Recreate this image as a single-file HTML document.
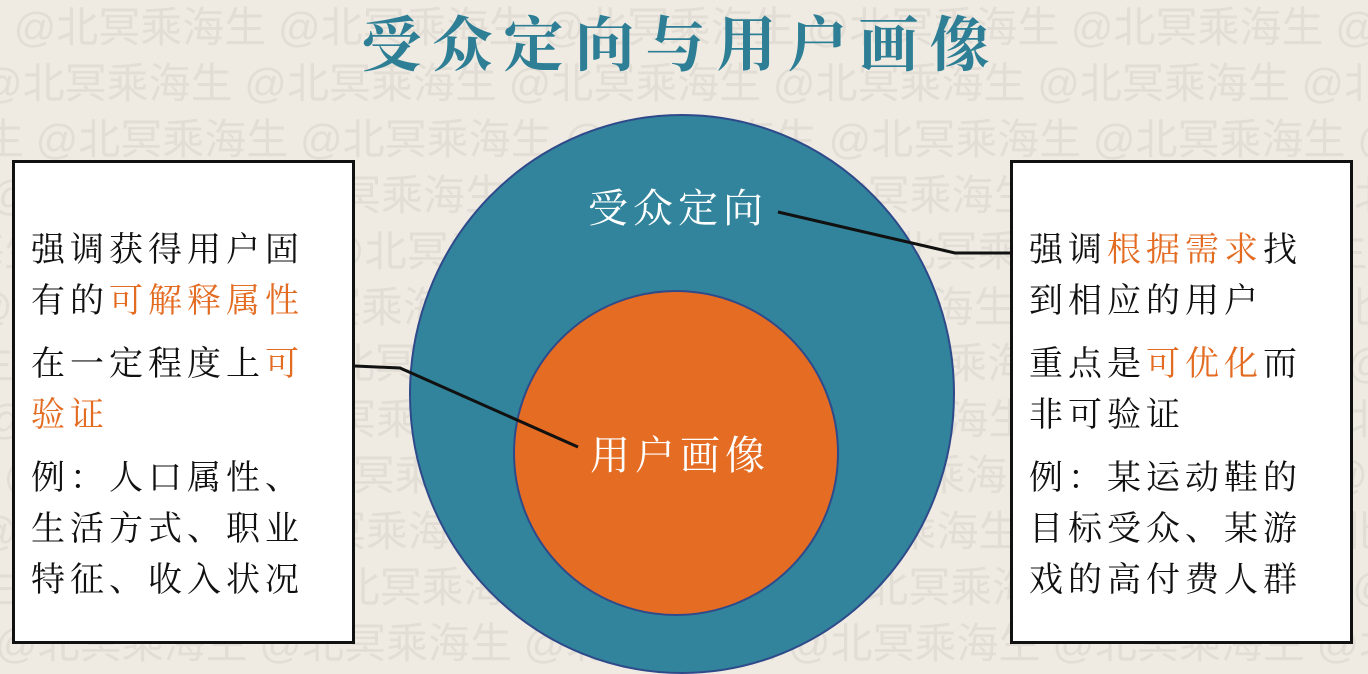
<!DOCTYPE html>
<html><head><meta charset="utf-8"><style>
html,body{margin:0;padding:0}
body{width:1368px;height:674px;overflow:hidden;background:#efebe2;position:relative;font-family:"Liberation Serif","Noto Serif CJK SC",serif}
.wm{position:absolute;left:0;top:0;width:1368px;height:674px;overflow:hidden;color:#e2ded6;font-family:"Liberation Sans","Noto Sans CJK SC",sans-serif;font-size:42px;white-space:nowrap;line-height:56px}
.box{position:absolute;top:160px;width:343px;height:484px;background:#fff;border:3px solid #111;box-sizing:border-box;padding:62px 0 0 16px;font-size:34px;color:#111;letter-spacing:5px}
.box p{margin:0;line-height:51px}
.box p.gap{margin-top:12px}
.o{color:#e36c22}
</style></head><body>
<div class="wm">
<div style="margin-left:-40px">生 @北冥乘海生 @北冥乘海生 @北冥乘海生 @北冥乘海生 @北冥乘海生 @北冥乘海生</div>
<div style="margin-left:-20px">@北冥乘海生 @北冥乘海生 @北冥乘海生 @北冥乘海生 @北冥乘海生 @北冥乘海生</div>
<div style="margin-left:-60px">海生 @北冥乘海生 @北冥乘海生 @北冥乘海生 @北冥乘海生 @北冥乘海生 @</div>
<div style="margin-left:-10px">@北冥乘海生 @北冥乘海生 @北冥乘海生 @北冥乘海生 @北冥乘海生 @北冥乘海生</div>
<div style="margin-left:-80px">乘海生 @北冥乘海生 @北冥乘海生 @北冥乘海生 @北冥乘海生 @北冥乘海生</div>
<div style="margin-left:-30px">@北冥乘海生 @北冥乘海生 @北冥乘海生 @北冥乘海生 @北冥乘海生 @北冥乘海生</div>
<div style="margin-left:-70px">海生 @北冥乘海生 @北冥乘海生 @北冥乘海生 @北冥乘海生 @北冥乘海生 @</div>
<div style="margin-left:-15px">@北冥乘海生 @北冥乘海生 @北冥乘海生 @北冥乘海生 @北冥乘海生 @北冥乘海生</div>
<div style="margin-left:-50px">生 @北冥乘海生 @北冥乘海生 @北冥乘海生 @北冥乘海生 @北冥乘海生 @北冥乘海生</div>
<div style="margin-left:-25px">@北冥乘海生 @北冥乘海生 @北冥乘海生 @北冥乘海生 @北冥乘海生 @北冥乘海生</div>
<div style="margin-left:-65px">海生 @北冥乘海生 @北冥乘海生 @北冥乘海生 @北冥乘海生 @北冥乘海生 @</div>
<div style="margin-left:-5px">@北冥乘海生 @北冥乘海生 @北冥乘海生 @北冥乘海生 @北冥乘海生 @北冥乘海生</div>
</div>
<div style="position:absolute;left:0;width:1362px;top:8px;text-align:center;font-size:60px;font-weight:bold;color:#2e7f96;letter-spacing:11px;line-height:76px">受众定向与用户画像</div>
<svg width="1368" height="674" style="position:absolute;left:0;top:0">
<ellipse cx="682" cy="394" rx="272" ry="279" fill="#31849b" stroke="#2f4a8a" stroke-width="2"/>
<circle cx="676" cy="453" r="162" fill="#e46c23" stroke="#2f4a8a" stroke-width="2"/>
<text x="678" y="222" text-anchor="middle" fill="#fff" font-size="40" letter-spacing="5" font-family="Liberation Serif, Noto Serif CJK SC, serif">受众定向</text>
<text x="680" y="469" text-anchor="middle" fill="#fff" font-size="40" letter-spacing="5" font-family="Liberation Serif, Noto Serif CJK SC, serif">用户画像</text>
<polyline points="355,366 400,368 578,447" fill="none" stroke="#111" stroke-width="3"/>
<polyline points="778,212 955,253 1012,253" fill="none" stroke="#111" stroke-width="3"/>
</svg>
<div class="box" style="left:12px">
<p>强调获得用户固</p><p>有的<span class="o">可解释属性</span></p>
<p class="gap">在一定程度上<span class="o">可</span></p><p><span class="o">验证</span></p>
<p class="gap">例：人口属性、</p><p>生活方式、职业</p><p>特征、收入状况</p>
</div>
<div class="box" style="left:1010px">
<p>强调<span class="o">根据需求</span>找</p><p>到相应的用户</p>
<p class="gap">重点是<span class="o">可优化</span>而</p><p>非可验证</p>
<p class="gap">例：某运动鞋的</p><p>目标受众、某游</p><p>戏的高付费人群</p>
</div>
</body></html>
